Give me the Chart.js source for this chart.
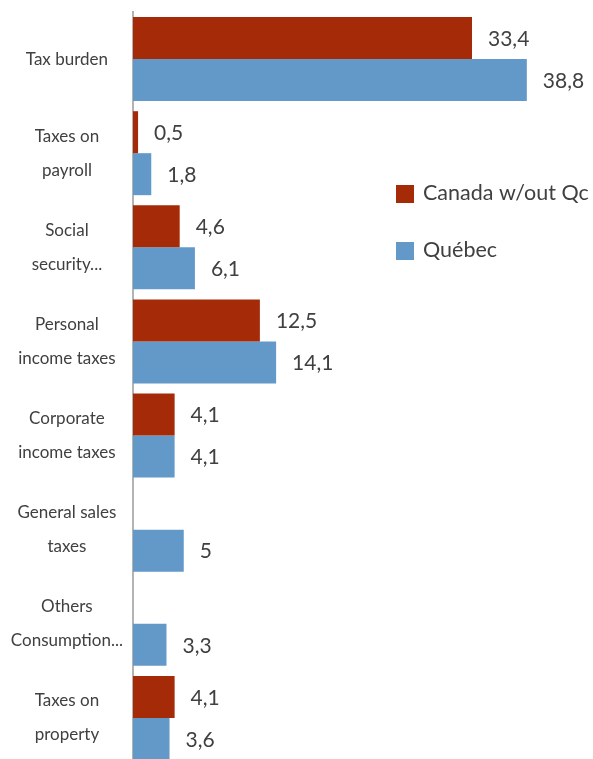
<!DOCTYPE html>
<html>
<head>
<meta charset="utf-8">
<script src="https://cdn.jsdelivr.net/npm/chart.js@4/dist/chart.umd.min.js"></script>
<style>
  html, body { margin: 0; padding: 0; background: #ffffff; overflow: hidden; }
  #wrap { position: relative; width: 593px; height: 766px; }
</style>
</head>
<body>
<div id="wrap"><canvas id="taxChart"></canvas></div>
<script>
var categories = [
    ['Tax burden'],
    ['Taxes on', 'payroll'],
    ['Social', 'security...'],
    ['Personal', 'income taxes'],
    ['Corporate', 'income taxes'],
    ['General sales', 'taxes'],
    ['Others', 'Consumption...'],
    ['Taxes on', 'property']
];
var canadaValues = [33.4, 0.5, 4.6, 12.5, 4.1, null, null, 4.1];
var quebecValues = [38.8, 1.8, 6.1, 14.1, 4.1, 5, 3.3, 3.6];
var seriesNames = ['Canada w/out Qc', 'Québec'];

var textColor = '#404040';

// value written to the right of each bar, with a decimal comma
var valueLabels = {
    id: 'valueLabels',
    afterDatasetsDraw: function(chart) {
        var ctx = chart.ctx;
        ctx.save();
        ctx.font = '21px Lato';
        ctx.fillStyle = textColor;
        ctx.textAlign = 'left';
        ctx.textBaseline = 'middle';
        chart.data.datasets.forEach(function(ds, i) {
            chart.getDatasetMeta(i).data.forEach(function(bar, j) {
                var v = ds.data[j];
                if (v === null) return;
                ctx.fillText(String(v).replace('.', ','), bar.x + 16, bar.y + 1);
            });
        });
        ctx.restore();
    }
};

// small square legend placed to the right of the bars
var sideLegend = {
    id: 'sideLegend',
    afterDraw: function(chart) {
        var ctx = chart.ctx;
        ctx.save();
        ctx.font = '21.5px Lato';
        ctx.textAlign = 'left';
        ctx.textBaseline = 'middle';
        chart.data.datasets.forEach(function(ds, i) {
            var top = 185 + i * 57;
            ctx.fillStyle = ds.backgroundColor;
            ctx.fillRect(396, top, 18, 18);
            ctx.fillStyle = textColor;
            ctx.fillText(ds.label, 423, top + 8);
        });
        ctx.restore();
    }
};

var ctx = document.getElementById('taxChart').getContext('2d');
var taxChart = new Chart(ctx, {
    type: 'bar',
    data: {
        labels: categories,
        datasets: [{
            label: seriesNames[0],
            data: canadaValues,
            backgroundColor: '#A52A08',
            borderWidth: 0
        }, {
            label: seriesNames[1],
            data: quebecValues,
            backgroundColor: '#6399C9',
            borderWidth: 0
        }]
    },
    options: {
        indexAxis: 'y',
        responsive: true,
        maintainAspectRatio: false,
        animation: false,
        categoryPercentage: 0.892,
        barPercentage: 1,
        layout: {
            padding: { top: 12, right: 54, bottom: 1, left: 0 }
        },
        plugins: {
            legend: { display: false },
            title: { display: false },
            tooltip: { enabled: false }
        },
        scales: {
            x: {
                display: false,
                min: 0,
                max: 40
            },
            y: {
                afterFit: function(scale) {
                    scale.width = 133;
                    scale.paddingTop = 0;
                    scale.paddingBottom = 0;
                },
                grid: {
                    display: false,
                    drawTicks: false
                },
                border: {
                    display: true,
                    color: '#b3b3b3',
                    width: 2
                },
                ticks: {
                    color: textColor,
                    crossAlign: 'center',
                    padding: 10,
                    font: { family: 'Lato', size: 17, lineHeight: 2 }
                }
            }
        }
    },
    plugins: [valueLabels, sideLegend]
});
</script>
</body>
</html>
